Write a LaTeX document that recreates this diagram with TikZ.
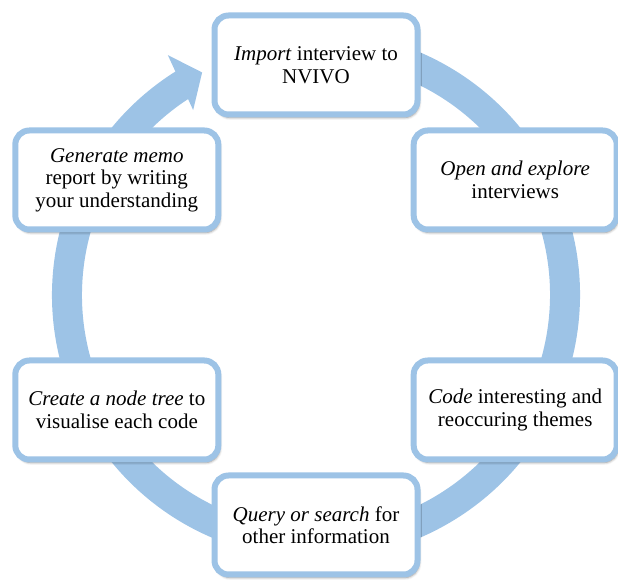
\documentclass[tikz,border=0pt]{standalone}
\usepackage{fontspec}
\setmainfont{Liberation Serif}
\usetikzlibrary{shadows.blur}
\definecolor{ringblue}{RGB}{157,195,230}
\tikzset{
  stepbox/.style={draw=ringblue, line width=6pt, fill=white, rounded corners=14pt,
    minimum width=203pt, minimum height=99pt, align=center,
    font=\fontsize{21}{22.5}\selectfont,
    blur shadow={shadow xshift=1.5pt, shadow yshift=-3pt, shadow blur radius=2.5pt, shadow opacity=45}}
}
\begin{document}
\begin{tikzpicture}[x=1pt,y=1pt]

\useasboundingbox (0,0) rectangle (618,583);
\coordinate (c) at (316,288);

% ring and its arrow head
\draw[ringblue,line width=30pt] ([shift={(122:249)}]c) arc[start angle=122,end angle=465,radius=249];
\fill[ringblue] ([shift={(121.7:282)}]c) -- ([shift={(117.1:250)}]c) -- ([shift={(123.6:222)}]c) -- cycle;

% steps
\node[stepbox] (import)  at ([shift={(90:230)}]c)  {\textit{Import} interview to\\NVIVO};
\node[stepbox] (explore) at ([shift={(30:230)}]c)  {\textit{Open and explore}\\interviews};
\node[stepbox] (code)    at ([shift={(-30:230)}]c) {\textit{Code} interesting and\\reoccuring themes};
\node[stepbox] (query)   at ([shift={(-90:230)}]c) {\textit{Query or search} for\\other information};
\node[stepbox] (tree)    at ([shift={(210:230)}]c) {\textit{Create a node tree} to\\visualise each code};
\node[stepbox] (memo)    at ([shift={(150:230)}]c) {\textit{Generate memo}\\report by writing\\your understanding};

\end{tikzpicture}
\end{document}
